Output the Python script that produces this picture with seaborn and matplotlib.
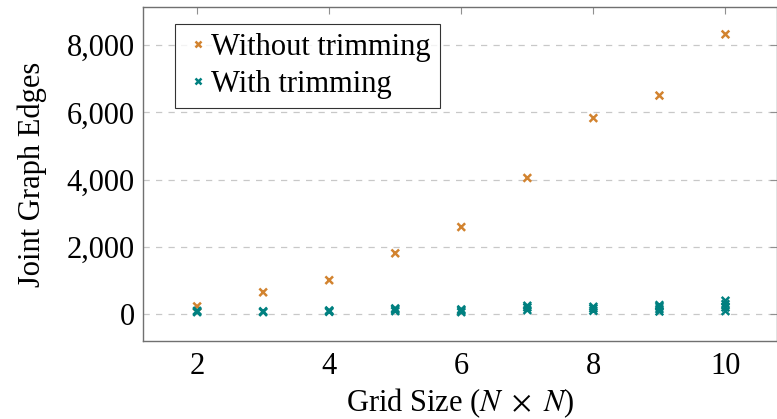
import matplotlib as mpl
import matplotlib.pyplot as plt
import numpy as np
import pandas as pd
import seaborn as sns

sns.set_style('white')
plt.rcParams['font.family'] = ['Liberation Serif', 'DejaVu Serif']
plt.rcParams['mathtext.fontset'] = 'stix'
plt.rcParams['text.color'] = 'black'
plt.rcParams['axes.labelcolor'] = 'black'
plt.rcParams['xtick.labelcolor'] = 'black'
plt.rcParams['ytick.labelcolor'] = 'black'

# ---- data ----
grid_without = [2, 3, 4, 5, 6, 7, 8, 9, 10]
edges_without = [230, 650, 1010, 1810, 2590, 4050, 5830, 6500, 8320]

grid_with = [2, 2, 2, 3, 3, 4, 4, 4, 5, 5, 5, 6, 6, 6,
             7, 7, 7, 8, 8, 8, 9, 9, 9, 9, 10, 10, 10, 10]
edges_with = [60, 80, 100, 60, 85, 70, 90, 110, 90, 130, 170, 60, 100, 140,
              120, 200, 250, 100, 170, 220, 80, 150, 220, 270, 90, 200, 300, 400]

df = pd.concat([
    pd.DataFrame({'grid': grid_without, 'edges': edges_without, 'kind': 'Without trimming'}),
    pd.DataFrame({'grid': grid_with, 'edges': edges_with, 'kind': 'With trimming'}),
])

palette = {'Without trimming': '#D2832F', 'With trimming': '#008080'}

fig, ax = plt.subplots(figsize=(7.77, 4.19), dpi=100)
fig.subplots_adjust(left=0.184, right=1.0, top=0.983, bottom=0.186)

sns.scatterplot(data=df, x='grid', y='edges', hue='kind', palette=palette,
                marker='x', s=30, linewidth=1.8, ax=ax, zorder=3)

ax.set_xlim(1.18, 10.78)
ax.set_ylim(-800, 9130)
ax.set_xticks([2, 4, 6, 8, 10])
ax.set_yticks([0, 2000, 4000, 6000, 8000])
ax.yaxis.set_major_formatter(mpl.ticker.FuncFormatter(lambda y, pos: f'{int(y):,}'))
ax.grid(axis='y', linestyle=(0, (5, 5)), color='#c8c8c8', linewidth=0.9)
ax.tick_params(direction='in', length=5, width=0.8, color='#909090',
               top=True, right=True, labelsize=22)
ax.tick_params(axis='y', pad=6)
ax.tick_params(axis='x', pad=8)
for sp in ax.spines.values():
    sp.set_color('#707070')
    sp.set_linewidth(1.0)

ax.set_xlabel(r'Grid Size ($N\ \times\ N$)', fontsize=22, labelpad=4)
ax.set_ylabel('Joint Graph Edges', fontsize=22, labelpad=14)

leg = ax.legend(loc='upper left', bbox_to_anchor=(0.05, 0.95), fontsize=22,
                frameon=True, fancybox=False, edgecolor='black',
                handletextpad=0.0, borderpad=0.3, labelspacing=0.25,
                handlelength=0.9, borderaxespad=0, markerscale=0.8)
leg.get_frame().set_linewidth(0.8)

fig.savefig('out.png', dpi=100)
